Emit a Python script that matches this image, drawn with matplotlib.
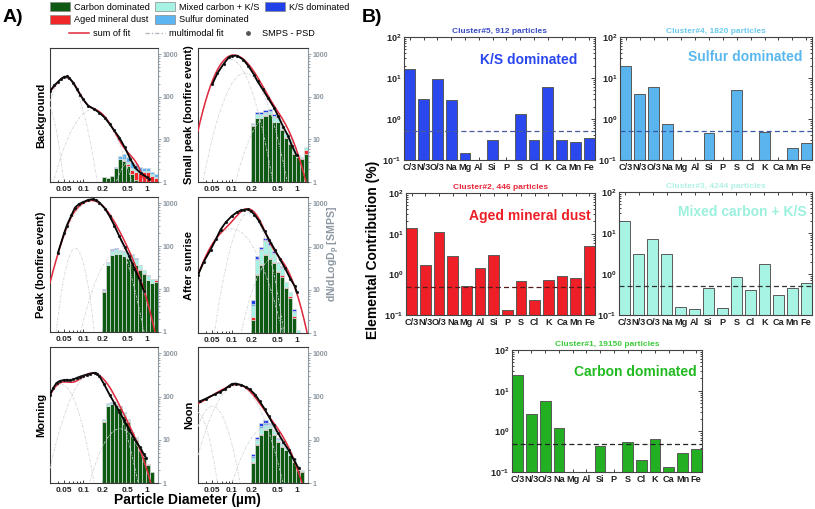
import numpy as np
import matplotlib
matplotlib.use("Agg")
import matplotlib.pyplot as plt
from matplotlib.patches import Patch
from matplotlib.lines import Line2D
from matplotlib.ticker import LogLocator, NullFormatter

plt.rcParams.update({"font.family": "Liberation Sans", "font.weight": "bold",
                     "mathtext.fontset": "custom", "mathtext.bf": "Liberation Sans:bold",
                     "mathtext.rm": "Liberation Sans"})

# ---------------- panel A data ----------------
BIN_EDGES = [0.2, 0.231, 0.267, 0.308, 0.356, 0.411, 0.475, 0.548, 0.632, 0.730,
             0.843, 0.974, 1.125, 1.299, 1.5]
CLASSES = ["Carbon dominated", "Aged mineral dust", "Mixed carbon + K/S",
           "Sulfur dominated", "K/S dominated"]
A_COLORS = ["#0e5a12", "#f0282a", "#a6f3e3", "#5cb4f0", "#2040e8"]

# Background
bg_d = [0.03, 0.035, 0.04, 0.045, 0.05, 0.055, 0.06, 0.07, 0.08, 0.09, 0.1, 0.12, 0.15,
        0.18, 0.22, 0.26, 0.3, 0.37, 0.45, 0.55, 0.65, 0.8, 1.0, 1.1]
bg_v = [135, 185, 224, 265, 295, 300, 280, 212, 150, 110, 87, 61, 51, 42, 32, 23, 17, 11,
        6.5, 3.5, 2.2, 1.6, 1.3, 1.2]
bg_amp, bg_dg, bg_sig = [80, 280, 50, 3], [0.025, 0.052, 0.14, 0.55], [0.10, 0.15, 0.22, 0.15]
bg_carbon = [1.3, 1.2, 1.4, 2.1, 3.4, 3.1, 2.4, 1.5, 1.1, 0.6, 0.5, 0.4, 0.4, 0.3]
bg_mineral = [0, 0, 0, 0, 0, 0.2, 0.3, 0.4, 0.6, 1.0, 1.2, 1.3, 1.0, 0.9]
bg_mixed = [0, 0, 0, 0, 0.1, 0.2, 0.2, 0.2, 0.2, 0.1, 0.1, 0.1, 0.1, 0.1]
bg_sulfur = [0, 0, 0, 0.1, 0.6, 1.0, 0.9, 0.8, 0.6, 0.5, 0.3, 0.3, 0.2, 0.2]
bg_ks = [0, 0, 0, 0, 0, 0.1, 0.1, 0.1, 0.1, 0.1, 0, 0, 0, 0]

# Small peak
sp_d = [0.05, 0.06, 0.075, 0.09, 0.1, 0.12, 0.15, 0.18, 0.22, 0.25, 0.3, 0.36, 0.45, 0.52,
        0.62, 0.74, 0.85, 1.0]
sp_v = [200, 360, 600, 850, 920, 920, 750, 530, 330, 230, 150, 95, 55, 35, 20, 12, 7, 4.2]
sp_amp, sp_dg, sp_sig = [750, 360, 40], [0.095, 0.16, 0.4], [0.18, 0.19, 0.2]
sp_carbon = [21, 32, 32, 36, 39, 25, 25, 17, 11, 7.8, 4.6, 3.8, 3.5, 4.6]
sp_mineral = [0.3, 0.5, 0.5, 0.5, 0.5, 0.5, 0.5, 0.3, 0.3, 0.3, 0.3, 0.1, 0.1, 1.0]
sp_mixed = [2, 6, 6, 6, 6, 8, 6, 2.5, 2.2, 2.2, 1.5, 0.3, 0.2, 1.2]
sp_sulfur = [0.4, 2, 2, 2, 2, 2.5, 2.5, 0.6, 0.5, 0.4, 0.3, 0, 0, 0]
sp_ks = [0.3, 3.5, 3.5, 3.5, 3.5, 3, 2, 0.6, 0.5, 0.3, 0.1, 0, 0, 0]

# Peak
pk_d = [0.04, 0.05, 0.055, 0.065, 0.074, 0.085, 0.1, 0.12, 0.143, 0.16, 0.18, 0.22, 0.26,
        0.31, 0.37, 0.45, 0.53, 0.64, 0.77, 0.9]
pk_v = [70, 200, 300, 520, 790, 950, 1070, 1200, 1250, 1180, 1040, 750, 500, 300, 170, 95,
        58, 30, 16.5, 9]
pk_amp, pk_dg, pk_sig = [1150, 90, 70], [0.135, 0.075, 0.35], [0.22, 0.10, 0.20]
pk_carbon = [8.7, 36, 62, 65, 65, 58, 52, 43, 36, 28, 23, 16, 13.5, 15]
pk_mineral = [0.2, 0.5, 1, 1, 1, 1, 1, 1, 1, 0.8, 0.6, 0.5, 0.5, 1.0]
pk_mixed = [0.6, 5, 15, 18, 12, 15, 16, 18, 12, 7, 4, 4, 3, 1]
pk_sulfur = [0.2, 0.5, 2, 3, 2, 2, 2, 2, 1.5, 0.5, 0.3, 0.3, 0.2, 0.2]
pk_ks = [0.3, 1, 8, 6, 3, 3, 3, 3, 1.5, 0.5, 0.3, 0.2, 0.1, 0.1]

# After sunrise
sr_d = [0.03, 0.037, 0.047, 0.057, 0.067, 0.08, 0.1, 0.12, 0.138, 0.155, 0.175, 0.2, 0.223,
        0.26, 0.32, 0.38, 0.46, 0.55, 0.66, 0.8, 0.94, 1.0]
sr_v = [22, 45, 85, 150, 247, 360, 510, 620, 690, 715, 720, 650, 550, 400, 225, 140, 85,
        52, 32, 18, 12, 9]
sr_amp, sr_dg, sr_sig = [257, 600, 55], [0.10, 0.185, 0.45], [0.236, 0.15, 0.18]
sr_carbon = [2.0, 22, 38, 65, 51, 41, 26, 20, 10.8, 6.3, 2.2, 0.6, 0, 0]
sr_mineral = [0.3, 1.5, 1.5, 2, 2, 2, 1.5, 1.5, 1.0, 0.8, 0.3, 0, 0, 0]
sr_mixed = [1.8, 25, 45, 70, 52, 26, 14, 10, 3.7, 1.9, 0.6, 0.55, 0, 0]
sr_sulfur = [0.5, 4, 5, 7, 5, 3, 1.5, 1.5, 0, 0, 0.2, 0, 0, 0]
sr_ks = [1.2, 8, 8, 14, 15, 5, 2, 2, 0, 0, 0.3, 0, 0, 0]

# Morning
mo_d = [0.03, 0.034, 0.038, 0.043, 0.049, 0.055, 0.062, 0.07, 0.079, 0.09, 0.1, 0.113,
        0.13, 0.152, 0.165, 0.18, 0.21, 0.26, 0.31, 0.37, 0.44, 0.53, 0.64, 0.77, 0.9, 0.98]
mo_v = [110, 160, 207, 230, 240, 245, 240, 250, 270, 290, 305, 322, 340, 355, 340, 295,
        200, 110, 70, 45, 28, 17, 10.5, 6.9, 4.6, 3.7]
mo_amp, mo_dg, mo_sig = [190, 345, 18], [0.045, 0.14, 0.38], [0.16, 0.21, 0.2]
mo_carbon = [26, 59, 68, 65, 54, 35, 26, 13, 9.8, 5.8, 4.0, 2.6, 1.8, 0]
mo_mineral = [0.5, 1, 0.5, 0.5, 0.5, 1, 0.5, 0.5, 0.5, 0.3, 0.3, 0.1, 0, 0]
mo_mixed = [3, 8, 3, 2, 3, 6, 2.5, 1.2, 1.2, 0.6, 0.1, 0.1, 0, 0]
mo_sulfur = [0.3, 1.5, 0.8, 0.3, 0.8, 2, 0.5, 0.2, 0.2, 0.1, 0, 0, 0, 0]
mo_ks = [0.2, 1.5, 0.7, 0.2, 0.7, 1, 0.5, 0.1, 0.1, 0.1, 0, 0, 0, 0]

# Noon
no_d = [0.032, 0.04, 0.054, 0.065, 0.077, 0.09, 0.1, 0.115, 0.14, 0.165, 0.19, 0.23, 0.27,
        0.32, 0.37, 0.44, 0.52, 0.62, 0.75, 0.9, 1.07]
no_v = [77, 90, 112, 128, 146, 175, 196, 200, 185, 165, 146, 110, 77, 52, 35, 22, 14, 9,
        5.8, 3.5, 2.2]
no_amp, no_dg, no_sig = [45, 60, 185, 20], [0.028, 0.05, 0.12, 0.35], [0.12, 0.15, 0.22, 0.22]
no_carbon = [2.9, 7.5, 13, 17, 18.5, 13, 9, 6.9, 5.8, 4.4, 3.1, 2.0, 1.8, 0]
no_mineral = [0.1, 0.3, 0.5, 0.5, 0.5, 0.3, 0.2, 0.2, 0.1, 0.1, 0.1, 0.2, 0.1, 0]
no_mixed = [0.8, 2, 5, 5, 3, 2.5, 1.2, 1.0, 0.8, 0.6, 0.4, 0.2, 0.1, 0]
no_sulfur = [0.4, 0.8, 2, 2, 1, 0.6, 0.2, 0.2, 0.1, 0.1, 0.1, 0, 0, 0]
no_ks = [0.6, 1.2, 3.5, 3.5, 1, 0.6, 0.2, 0.2, 0.1, 0.1, 0, 0, 0, 0]

# ---------------- panel B data ----------------
ELEMENTS = ["C/3", "N/3", "O/3", "Na", "Mg", "Al", "Si", "P", "S", "Cl", "K", "Ca", "Mn", "Fe"]
c5_vals = [16.8, 3.0, 9.4, 2.9, 0.15, 0, 0.31, 0, 1.33, 0.30, 6.2, 0.31, 0.27, 0.34]
c4_vals = [19.7, 4.0, 5.9, 0.77, 0, 0, 0.46, 0, 5.0, 0, 0.48, 0, 0.19, 0.255]
c2_vals = [14.1, 1.65, 10.9, 2.9, 0.53, 1.42, 2.96, 0.133, 0.68, 0.233, 0.72, 0.89, 0.79, 5.1]
c3_vals = [19.4, 3.16, 7.3, 3.05, 0.157, 0.14, 0.46, 0.151, 0.86, 0.40, 1.8, 0.30, 0.45, 0.59]
c1_vals = [24.2, 2.6, 5.7, 1.22, 0, 0, 0.445, 0, 0.54, 0.20, 0.64, 0.13, 0.29, 0.376]
THRESHOLD = 0.5

fig = plt.figure(figsize=(8.15, 5.09), dpi=100)
W, H = 815.0, 509.0


def px_axes(x0, y0, x1, y1):
    return fig.add_axes([x0 / W, 1 - y1 / H, (x1 - x0) / W, (y1 - y0) / H])


GRAY_T = "#8c97a1"
MODE_LS = (0, (3, 1.5, 1, 1.5))


def draw_psd(ax, name, d, v, amp, dg, sig, comps):
    x = np.logspace(np.log10(0.03), np.log10(1.5), 300)
    modes = [a * np.exp(-np.log10(x / g) ** 2 / (2 * s ** 2)) for a, g, s in zip(amp, dg, sig)]
    left = np.array(BIN_EDGES[:-1]); width = np.diff(BIN_EDGES)
    bottom = np.full(len(left), 0.01)
    for vals, col in zip(comps, A_COLORS):
        vals = np.array(vals, float)
        m = vals > 0
        ax.bar(left[m], vals[m], width=width[m], bottom=bottom[m], align="edge",
               color=col, edgecolor="#d8dcde", lw=0.5, zorder=2)
        bottom = bottom + vals
    for md in modes:
        ax.plot(x, md, color="#cdd1d5", ls=MODE_LS, lw=0.6, zorder=3)
    ax.plot(x, np.sum(modes, axis=0), color="#e0283c", lw=1.1, zorder=4)
    ax.plot(d, v, "o-", color="black", ms=2.0, lw=1.3, mec="#333333", mew=0.3, zorder=5)
    ax.set_xscale("log"); ax.set_yscale("log")
    ax.set_xlim(0.03, 1.5); ax.set_ylim(1, 1400)
    ax.yaxis.tick_right()
    ax.set_yticks([1, 10, 100, 1000]); ax.set_yticklabels(["1", "10", "100", "1000"])
    ax.yaxis.set_minor_formatter(NullFormatter())
    ax.tick_params(axis="y", which="both", direction="out", colors=GRAY_T, labelsize=5,
                   length=2, width=0.6, pad=1.5)
    ax.tick_params(axis="y", which="minor", length=1.2)
    ax.set_xticks([0.05, 0.1, 0.2, 0.5, 1]); ax.set_xticklabels(["0.05", "0.1", "0.2", "0.5", "1"])
    ax.xaxis.set_minor_formatter(NullFormatter())
    ax.tick_params(axis="x", which="both", direction="in", labelsize=6, length=2.5,
                   width=0.6, pad=3, colors="#222222")
    ax.tick_params(axis="x", which="minor", length=1.5)
    for s in ("left", "top", "bottom"):
        ax.spines[s].set_color("#3a3a3a"); ax.spines[s].set_linewidth(0.8)
    ax.spines["right"].set_color(GRAY_T); ax.spines["right"].set_linewidth(0.8)
    ax.set_ylabel(name, fontsize=8, fontweight="bold", labelpad=3)


panels = [
    ((50, 48, 158, 182), "Background", bg_d, bg_v, bg_amp, bg_dg, bg_sig,
     [bg_carbon, bg_mineral, bg_mixed, bg_sulfur, bg_ks]),
    ((198, 48, 308, 182), "Small peak (bonfire event)", sp_d, sp_v, sp_amp, sp_dg, sp_sig,
     [sp_carbon, sp_mineral, sp_mixed, sp_sulfur, sp_ks]),
    ((50, 197, 158, 332), "Peak (bonfire event)", pk_d, pk_v, pk_amp, pk_dg, pk_sig,
     [pk_carbon, pk_mineral, pk_mixed, pk_sulfur, pk_ks]),
    ((198, 197, 308, 333), "After sunrise", sr_d, sr_v, sr_amp, sr_dg, sr_sig,
     [sr_carbon, sr_mineral, sr_mixed, sr_sulfur, sr_ks]),
    ((50, 347, 158, 483), "Morning", mo_d, mo_v, mo_amp, mo_dg, mo_sig,
     [mo_carbon, mo_mineral, mo_mixed, mo_sulfur, mo_ks]),
    ((198, 347, 308, 483), "Noon", no_d, no_v, no_amp, no_dg, no_sig,
     [no_carbon, no_mineral, no_mixed, no_sulfur, no_ks]),
]
for box, name, d, v, amp, dg, sig, comps in panels:
    draw_psd(px_axes(*box), name, d, v, amp, dg, sig, comps)

fig.text(334 / W, 1 - 254 / H, "dN/dLogD$_\\mathbf{p}$ [SMPS]", rotation=90, color=GRAY_T,
         fontsize=7.6, fontweight="bold", ha="center", va="center")
fig.text(187 / W, 1 - 500 / H, "Particle Diameter (\u00b5m)", fontsize=10, fontweight="bold",
         ha="center", va="center")
fig.text(3 / W, 1 - 18 / H, "A)", fontsize=14, fontweight="bold", va="center")
fig.text(362 / W, 1 - 18 / H, "B)", fontsize=14, fontweight="bold", va="center")

# legends of panel A
leg_font = {"size": 6.6, "weight": "normal"}
h1 = [Patch(facecolor=A_COLORS[i], edgecolor="#888888", lw=0.5, label=CLASSES[i])
      for i in range(len(CLASSES))]
fig.legend(handles=h1, loc="upper left", bbox_to_anchor=(50 / W, 1 - 2 / H), ncol=3,
           frameon=False, prop=leg_font, handlelength=2.2, handleheight=1.2, handletextpad=0.4,
           columnspacing=0.6, labelspacing=0.3, borderpad=0, borderaxespad=0)
h2 = [Line2D([], [], color="#e0283c", lw=1.1, label="sum of fit"),
      Line2D([], [], color="#b0b6bc", ls=MODE_LS, lw=1.0, label="multimodal fit"),
      Line2D([], [], color="#555555", marker="o", ls="none", ms=2.5, label="SMPS - PSD")]
fig.legend(handles=h2, loc="upper left", bbox_to_anchor=(69 / W, 1 - 29 / H), ncol=3,
           frameon=False, prop=leg_font, handlelength=2.2, handletextpad=0.4,
           columnspacing=1.6, borderpad=0, borderaxespad=0)

# ---------------- panel B ----------------
clusters = [
    ((404, 37, 595, 160), c5_vals, "Cluster#5, 912 particles", "K/S dominated",
     "#2b48ee", "#3a4cc8", "#2b48ee", "#4a5a9a", (0.91, 0.81)),
    ((620, 37, 812, 160), c4_vals, "Cluster#4, 1820 particles", "Sulfur dominated",
     "#5ab4ee", "#6ccaf0", "#5ab8ee", "#3a5aa8", (0.95, 0.84)),
    ((406, 193, 595, 315), c2_vals, "Cluster#2, 446 particles", "Aged mineral dust",
     "#ee1f26", "#e8283a", "#ee1f26", "#5a1a1a", (0.98, 0.81)),
    ((619, 192, 812, 315), c3_vals, "Cluster#3, 4244 particles", "Mixed carbon + K/S",
     "#a8f4e4", "#b0f0e6", "#9cf0de", "#333333", (0.97, 0.84)),
    ((512, 350, 702, 472), c1_vals, "Cluster#1, 19150 particles", "Carbon dominated",
     "#22b022", "#3ccc3c", "#22bb22", "#222222", (0.97, 0.82)),
]
xpos = np.arange(len(ELEMENTS))
for box, vals, title, tag, bcol, tcol, lcol, dcol, tpos in clusters:
    ax = px_axes(*box)
    vals = np.array(vals, float)
    m = vals > 0
    ax.bar(xpos[m], vals[m], width=0.78, bottom=1e-3, color=bcol, edgecolor="#5a5a5a",
           lw=0.7, zorder=2)
    ax.axhline(THRESHOLD, color=dcol, ls=(0, (4, 2.5)), lw=0.9, zorder=3)
    ax.set_yscale("log")
    ax.set_ylim(0.1, 100); ax.set_xlim(-0.42, len(ELEMENTS) - 0.58)
    ax.set_yticks([0.1, 1, 10, 100])
    ax.set_yticklabels(["$\\mathbf{10^{-1}}$", "$\\mathbf{10^{0}}$", "$\\mathbf{10^{1}}$",
                        "$\\mathbf{10^{2}}$"])
    ax.yaxis.set_minor_locator(LogLocator(base=10, subs=np.arange(2, 10)))
    ax.yaxis.set_minor_formatter(NullFormatter())
    ax.set_xticks(xpos); ax.set_xticklabels(ELEMENTS)
    ax.tick_params(axis="both", which="both", direction="in", top=True, right=True,
                   width=0.6, colors="#222222")
    ax.tick_params(axis="y", which="major", length=3, labelsize=6.5, pad=2)
    ax.tick_params(axis="y", which="minor", length=1.6)
    ax.tick_params(axis="x", which="major", length=2, labelsize=6.6, pad=2)
    for s in ax.spines.values():
        s.set_color("#444444"); s.set_linewidth(0.8)
    ax.set_title(title, fontsize=6, fontweight="bold", color=tcol, pad=3)
    ax.text(tpos[0], tpos[1], tag, transform=ax.transAxes, ha="right", va="center",
            fontsize=10, fontweight="bold", color=lcol)

fig.text(373 / W, 1 - 250 / H, "Elemental Contribution (%)", rotation=90, fontsize=10,
         fontweight="bold", ha="center", va="center")

fig.savefig("out.png", dpi=100)
